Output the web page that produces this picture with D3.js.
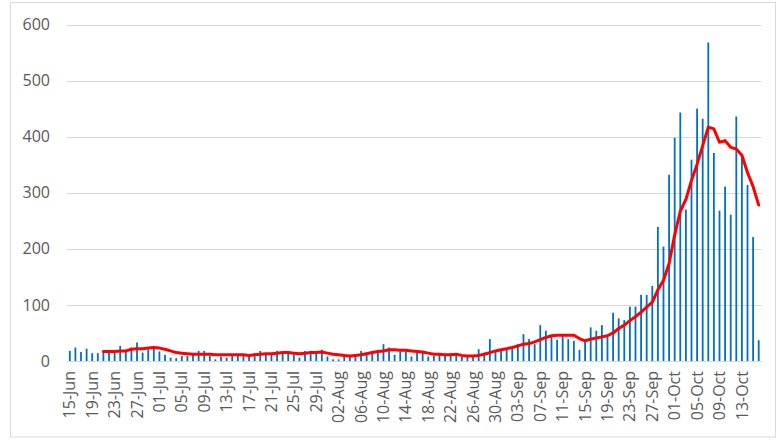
<!DOCTYPE html>
<html>
<head>
<meta charset="utf-8">
<script src="https://cdn.jsdelivr.net/npm/d3@7/dist/d3.min.js"></script>
<style>
  html, body { margin: 0; padding: 0; background: #fff; }
  svg { display: block; }
  text { font-family: "Open Sans", "Liberation Sans", sans-serif; }
</style>
</head>
<body>
<svg id="chart" width="778" height="441"></svg>
<script>
// Daily values, 15-Jun .. 16-Oct
const startDate = "2020-06-15";
const endDate = "2020-10-16";
const dailyValues = [
  18, 24, 16, 22, 14, 14, 16, 15, 17, 27,
  20, 24, 33, 15, 21, 24, 17, 11, 6, 5,
  9, 9, 11, 18, 18, 9, 3, 8, 6, 9,
  9, 11, 9, 14, 18, 12, 12, 18, 14, 15,
  12, 6, 18, 15, 18, 20, 8, 3, 3, 9,
  7, 8, 18, 15, 17, 18, 30, 24, 11, 17,
  17, 8, 17, 18, 8, 9, 11, 11, 14, 10,
  8, 7, 7, 21, 15, 39, 17, 18, 21, 22,
  30, 48, 39, 30, 64, 54, 45, 38, 45, 39,
  36, 20, 34, 60, 54, 64, 43, 86, 76, 73,
  97, 97, 118, 118, 134, 239, 204, 332, 398, 443,
  270, 359, 450, 432, 568, 371, 268, 311, 261, 436,
  364, 314, 221, 37
];
// Red trend line, starts on the 7th day (21-Jun)
const trendStartIndex = 6;
const trendValues = [
  17, 17, 17, 18, 18, 21, 22, 22, 23, 24,
  23, 21, 18, 15, 14, 13, 12, 12, 12, 12,
  11, 11, 11, 11, 11, 11, 10, 11, 12, 13,
  13, 14, 15, 15, 14, 13, 14, 15, 15, 16,
  14, 12, 11, 10, 9, 10, 11, 13, 15, 17,
  18, 20, 20, 19, 19, 18, 17, 16, 14, 12,
  12, 11, 11, 12, 10, 9, 9, 10, 12, 15,
  18, 20, 22, 24, 27, 30, 31, 34, 38, 42,
  45, 46, 46, 46, 46, 40, 36, 39, 41, 43,
  45, 50, 58, 64, 72, 79, 87, 96, 105, 127,
  144, 174, 225, 267, 288, 322, 351, 384, 417, 414,
  390, 393, 381, 378, 367, 336, 311, 278
];
const yTicks = [0, 100, 200, 300, 400, 500, 600];
const tickLabels = [
  "15-Jun", "19-Jun", "23-Jun", "27-Jun", "01-Jul", "05-Jul", "09-Jul", "13-Jul",
  "17-Jul", "21-Jul", "25-Jul", "29-Jul", "02-Aug", "06-Aug", "10-Aug", "14-Aug",
  "18-Aug", "22-Aug", "26-Aug", "30-Aug", "03-Sep", "07-Sep", "11-Sep", "15-Sep",
  "19-Sep", "23-Sep", "27-Sep", "01-Oct", "05-Oct", "09-Oct", "13-Oct"
];

const parse = d3.timeParse("%Y-%m-%d");
const fmt = d3.timeFormat("%d-%b");
const categories = d3.timeDay.range(parse(startDate), d3.timeDay.offset(parse(endDate), 1)).map(fmt);

const svg = d3.select("#chart");
const plot = { left: 67, right: 761.5, top: 24.5, bottom: 361 };

// chart frame
svg.append("rect")
  .attr("x", 10.5).attr("y", 2.5)
  .attr("width", 765).attr("height", 434.5)
  .attr("fill", "#fff").attr("stroke", "#d9d9d9").attr("stroke-width", 1);

const x = d3.scaleBand().domain(categories).range([plot.left, plot.right]).paddingInner(0).paddingOuter(0);
const y = d3.scaleLinear().domain([0, 600]).range([plot.bottom, plot.top]);

// gridlines
svg.append("g").selectAll("line").data(yTicks).join("line")
  .attr("x1", plot.left).attr("x2", plot.right)
  .attr("y1", d => Math.round(y(d)) + 0.5).attr("y2", d => Math.round(y(d)) + 0.5)
  .attr("stroke", "#d9d9d9").attr("stroke-width", 1);

// y axis labels
const yAxis = svg.append("g").attr("transform", `translate(50,0)`)
  .call(d3.axisLeft(y).tickValues(yTicks).tickSize(0).tickPadding(0));
yAxis.select(".domain").remove();
yAxis.selectAll("text").attr("fill", "#595959").style("font-size", "16px")
  .attr("font-family", "Open Sans");

// bars
const barW = 1.8;
svg.append("g").selectAll("rect").data(dailyValues).join("rect")
  .attr("x", (d, i) => x(categories[i]) + x.bandwidth() / 2 - barW / 2)
  .attr("width", barW)
  .attr("y", d => y(d))
  .attr("height", d => y(0) - y(d))
  .attr("fill", "#0070C0");

// trend line
const line = d3.line()
  .x((d, i) => x(categories[i + trendStartIndex]) + x.bandwidth() / 2)
  .y(d => y(d))
  .curve(d3.curveLinear);
svg.append("path").datum(trendValues)
  .attr("d", line)
  .attr("fill", "none")
  .attr("stroke", "#ff0000")
  .attr("stroke-width", 3)
  .attr("stroke-linejoin", "round")
  .attr("stroke-linecap", "round");

// x axis
const xAxis = svg.append("g").attr("transform", `translate(0,${plot.bottom})`)
  .call(d3.axisBottom(x).tickValues(tickLabels).tickSize(0).tickSizeOuter(0));
xAxis.select(".domain").attr("stroke", "#d9d9d9");
xAxis.selectAll("text")
  .attr("fill", "#595959").style("font-size", "16px")
  .attr("text-anchor", "end")
  .attr("transform", "rotate(-90)")
  .attr("x", -10).attr("y", 0).attr("dy", "0.35em");
</script>
</body>
</html>
